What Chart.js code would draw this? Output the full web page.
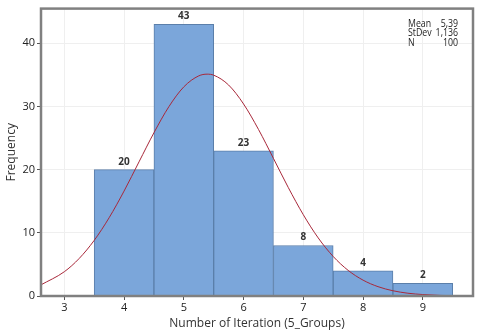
<!DOCTYPE html>
<html><head><meta charset="utf-8">
<script src="https://cdn.jsdelivr.net/npm/chart.js@4"></script>
<style>html,body{margin:0;padding:0;background:#fff}#w{width:480px;height:331px}</style>
</head><body><div id="w"><canvas id="c"></canvas></div>
<script>
const binCenters = [4, 5, 6, 7, 8, 9];
const frequencies = [20, 43, 23, 8, 4, 2];
const xTickLabels = [3, 4, 5, 6, 7, 8, 9];
const yTickLabels = [0, 10, 20, 30, 40];
const curveX = [2.6, 3.0, 3.25, 3.5, 3.75, 4.0, 4.25, 4.5, 4.75, 5.0, 5.25, 5.39, 5.5, 5.75, 6.0, 6.25, 6.5, 6.75, 7.0, 7.25, 7.5, 7.75, 8.0, 8.25, 8.5, 8.75, 9.0, 9.3, 9.6];
const curveY = [1.72, 3.84, 5.95, 8.80, 12.39, 16.61, 21.23, 25.84, 29.97, 33.11, 34.85, 35.12, 34.96, 33.40, 30.40, 26.37, 21.79, 17.15, 12.87, 9.19, 6.26, 4.06, 2.51, 1.48, 0.83, 0.44, 0.23, 0.09, 0.04];
const statNames = ["Mean", "StDev", "N"];
const statValues = ["5,39", "1,136", "100"];

const FONT = "'Open Sans', 'Noto Sans', sans-serif";

function narrowText(ctx, text, x, y, align, sx) {
  ctx.save();
  ctx.translate(x, y);
  ctx.scale(sx, 1);
  ctx.textAlign = align;
  ctx.fillText(text, 0, 0);
  ctx.restore();
}

const extras = {
  id: 'extras',
  afterDatasetsDraw(chart) {
    const ctx = chart.ctx, a = chart.chartArea;
    const xs = chart.scales.x, ys = chart.scales.y;
    ctx.save();
    ctx.font = "bold 10px " + FONT;
    ctx.fillStyle = '#333';
    ctx.textAlign = 'center';
    ctx.textBaseline = 'bottom';
    binCenters.forEach((c, i) => {
      ctx.fillText(String(frequencies[i]), xs.getPixelForValue(c), ys.getPixelForValue(frequencies[i]) - 3);
    });
    ctx.font = "11px " + FONT;
    ctx.fillStyle = '#222';
    ctx.textBaseline = 'middle';
    statNames.forEach((n, i) => {
      const y = a.top + 15.5 + i * 9.2;
      narrowText(ctx, n, a.right - 65, y, 'left', 0.8);
      narrowText(ctx, statValues[i], a.right - 15, y, 'right', 0.8);
    });
    ctx.strokeStyle = '#808080';
    ctx.lineWidth = 2.5;
    ctx.strokeRect(a.left, a.top, a.right - a.left, a.bottom - a.top);
    ctx.restore();
  }
};

new Chart(document.getElementById('c'), {
  type: 'bar',
  data: {
    datasets: [
      {
        type: 'line',
        data: curveX.map((x, i) => ({x: x, y: curveY[i]})),
        borderColor: '#A8283A',
        borderWidth: 1,
        pointRadius: 0,
        cubicInterpolationMode: 'monotone',
        fill: false,
        order: 0
      },
      {
        type: 'bar',
        data: binCenters.map((x, i) => ({x: x, y: frequencies[i]})),
        backgroundColor: '#7BA6DA',
        borderColor: '#5B7FAA',
        borderWidth: 1,
        barPercentage: 1,
        categoryPercentage: 1,
        order: 1
      }
    ]
  },
  options: {
    responsive: true,
    maintainAspectRatio: false,
    animation: false,
    layout: {padding: {left: 0, top: 5, right: 7, bottom: 0}},
    plugins: {legend: {display: false}, tooltip: {enabled: false}},
    scales: {
      x: {
        type: 'linear',
        offset: false,
        min: 2.61,
        max: 9.84,
        afterBuildTicks: s => { s.ticks = xTickLabels.map(v => ({value: v})); },
        afterFit: s => { s.height = 35; },
        grid: {offset: false, color: '#EFEFEF', tickColor: '#555', tickLength: 4, lineWidth: 1},
        border: {display: false},
        ticks: {font: {size: 11, family: FONT}, color: '#222', padding: 1, maxRotation: 0,
          callback: v => String(v)},
        title: {display: true, text: 'Number of Iteration (5_Groups)', font: {size: 12, family: FONT}, color: '#333', padding: {top: 1, bottom: 0}}
      },
      y: {
        min: 0,
        max: 45.5,
        afterBuildTicks: s => { s.ticks = yTickLabels.map(v => ({value: v})); },
        afterFit: s => { s.width = 41; },
        grid: {color: '#EFEFEF', tickColor: '#555', tickLength: 4, lineWidth: 1},
        border: {display: false},
        ticks: {font: {size: 11, family: FONT}, color: '#222', padding: 2},
        title: {display: true, text: 'Frequency', font: {size: 12, family: FONT}, color: '#333', padding: {top: 4, bottom: 2}}
      }
    }
  },
  plugins: [extras]
});
</script>
</body></html>
